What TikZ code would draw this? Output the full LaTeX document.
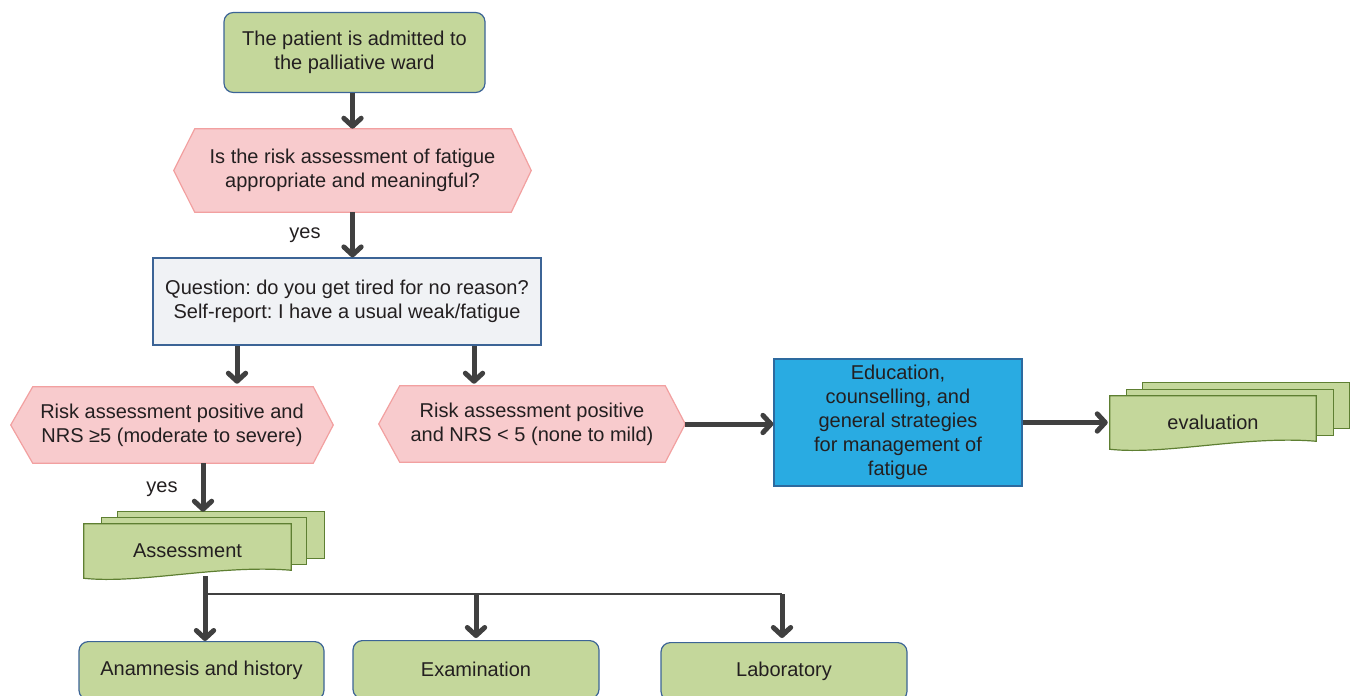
\documentclass[tikz,border=0pt]{standalone}
\usepackage{fontspec}
\setmainfont{Liberation Sans}
\usetikzlibrary{arrows.meta,calc}
\definecolor{gfill}{HTML}{C4D79B}
\definecolor{bordblue}{HTML}{3C6496}
\definecolor{pfill}{HTML}{F8CBCD}
\definecolor{pdraw}{HTML}{F2A0A0}
\definecolor{qfill}{HTML}{F0F2F5}
\definecolor{procfill}{HTML}{29ABE2}
\definecolor{procdraw}{HTML}{2D6A9F}
\definecolor{docdraw}{HTML}{5E7F32}
\definecolor{arrc}{HTML}{404040}
\definecolor{textc}{HTML}{231F20}
\pgfdeclarelayer{background}
\pgfsetlayers{background,main}
\frenchspacing
\begin{document}
\begin{tikzpicture}[x=0.75pt,y=-0.75pt,
  txt/.style={font=\frenchspacing\fontsize{15}{18}\selectfont, text=textc, align=center, inner sep=0pt},
  box/.style 2 args={txt, minimum width={#1*0.75pt}, minimum height={#2*0.75pt}},
  gbox/.style={draw=bordblue, fill=gfill, rounded corners=7pt, line width=0.9pt},
  hexshape/.style={draw=pdraw, fill=pfill, line width=0.9pt},
  docshape/.style={draw=docdraw, fill=gfill, line width=0.9pt},
  arr/.style={draw=arrc, line width=3.75pt, -{Straight Barb[length=6pt,width=13pt,line cap=round,line join=round]}},
  thinl/.style={draw=arrc, line width=1.5pt},
  lbl/.style={font=\fontsize{15}{18}\selectfont, text=textc}
]
\useasboundingbox (0,0) rectangle (1353,696);

% nodes
\node[box={261}{80}, gbox] (top) at (354.5,52.5) {The patient is admitted to\\the palliative ward};
\node[box={357}{83}] (h1) at (352.5,170.5) {Is the risk assessment of fatigue\\appropriate and meaningful?};
\node[box={388}{87}, draw=bordblue, fill=qfill, line width=0.9pt] (q) at (347,301.5) {Question: do you get tired for no reason?\\Self-report: I have a usual weak/fatigue};
\node[box={322}{76}] (h2L) at (172,425) {Risk assessment positive and\\NRS \symbol{"2265}5 (moderate to severe)};
\node[box={306}{76}] (h2R) at (532,424) {Risk assessment positive\\and NRS < 5 (none to mild)};
\node[box={248}{127}, draw=procdraw, fill=procfill, line width=0.9pt] (proc) at (898,422.5) {Education,\\counselling, and\\general strategies\\for management of\\fatigue};
\node[box={206}{53}] (eval) at (1213,422.5) {evaluation};
\node[box={207}{54}] (assess) at (187.5,551) {Assessment};
\node[box={245}{58}, gbox, anchor=north] (anam) at (201.5,641) {Anamnesis and history};
\node[box={246}{58}, gbox, anchor=north] (exam) at (476,640) {Examination};
\node[box={246}{58}, gbox, anchor=north] (lab) at (784,642) {Laboratory};

% shapes behind text
\begin{pgfonlayer}{background}
  \draw[hexshape] (h1.west) -- ($(h1.north west)+(21,0)$) -- ($(h1.north east)+(-20,0)$) -- (h1.east)
     -- ($(h1.south east)+(-20,0)$) -- ($(h1.south west)+(21,0)$) -- cycle;
  \draw[hexshape] (h2L.west) -- ($(h2L.north west)+(22,0)$) -- ($(h2L.north east)+(-20,0)$) -- (h2L.east)
     -- ($(h2L.south east)+(-20,0)$) -- ($(h2L.south west)+(22,0)$) -- cycle;
  \draw[hexshape] (h2R.west) -- ($(h2R.north west)+(21,0)$) -- ($(h2R.north east)+(-20,0)$) -- (h2R.east)
     -- ($(h2R.south east)+(-20,0)$) -- ($(h2R.south west)+(21,0)$) -- cycle;
  % process inner lines
  \draw[procdraw, line width=0.9pt] ($(proc.north west)+(31,0)$) -- ($(proc.south west)+(31,0)$);
  \draw[procdraw, line width=0.9pt] ($(proc.north east)+(-31,0)$) -- ($(proc.south east)+(-31,0)$);
  % evaluation multidoc
  \draw[docshape] ($(eval.north west)+(33,-13)$) rectangle ($(eval.south east)+(33,-21)$);
  \draw[docshape] ($(eval.north west)+(17,-6)$) rectangle ($(eval.south east)+(17,-14)$);
  \draw[docshape] (eval.north west) -- (eval.north east) -- ($(eval.south east)+(0,-8)$)
     .. controls ($(eval.south east)+(-70,-14)$) and ($(eval.south west)+(56,6)$) .. (eval.south west) -- cycle;
  % assessment multidoc
  \draw[docshape] ($(assess.north west)+(34,-12)$) rectangle ($(assess.south east)+(33,-20)$);
  \draw[docshape] ($(assess.north west)+(18,-6)$) rectangle ($(assess.south east)+(15,-14)$);
  \draw[docshape] (assess.north west) -- (assess.north east) -- ($(assess.south east)+(0,-8)$)
     .. controls ($(assess.south east)+(-71,-14)$) and ($(assess.south west)+(56,6)$) .. (assess.south west) -- cycle;
\end{pgfonlayer}

% connectors
\draw[arr] (top.south -| h1.north) -- (h1.north);
\draw[arr] (h1.south) -- (h1.south |- q.north);
\node[lbl] (yes1) at (305,235) {yes};
\coordinate (qa) at (237,0);
\coordinate (qb) at (474,0);
\draw[arr] (qa |- q.south) -- ($(qa |- h2L.north)+(0,-3)$);
\draw[arr] (qb |- q.south) -- ($(qb |- h2R.north)+(0,-2)$);
\draw[arr] (h2R.east) -- (h2R.east -| proc.west);
\draw[arr] (proc.east |- eval.west) -- ($(eval.west)+(-2,0)$);
\coordinate (ya) at (203,0);
\draw[arr] (ya |- h2L.south) -- ($(ya |- assess.north)+(0,-12)$);
\node[lbl] (yes2) at (162,489) {yes};
\coordinate (split) at (205,594);
\draw[thinl] (split) -- (split -| 782,0);
\draw[arr] ($(split |- assess.south)+(0,-2)$) -- (split |- anam.north);
\draw[arr] (split -| exam.north) -- ($(exam.north)+(0,-2)$);
\draw[arr] (782,594) -- ($(782,0 |- lab.north)+(0,-4)$);
\end{tikzpicture}
\end{document}
